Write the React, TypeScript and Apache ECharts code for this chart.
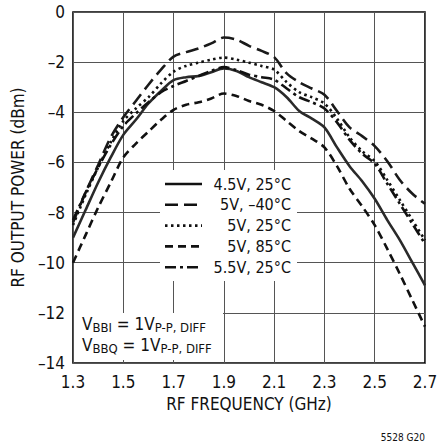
import React, { useEffect, useRef } from "react";
import * as echarts from "echarts";

const freq = [1.3, 1.35, 1.4, 1.45, 1.5, 1.55, 1.6, 1.65, 1.7, 1.75, 1.8, 1.85, 1.9, 1.95, 2.0, 2.05, 2.1, 2.15, 2.2, 2.25, 2.3, 2.35, 2.4, 2.45, 2.5, 2.55, 2.6, 2.65, 2.7];

const v45_25 = [-9.0, -7.9, -6.8, -5.8, -4.9, -4.3, -3.65, -3.15, -2.72, -2.6, -2.55, -2.4, -2.25, -2.35, -2.6, -2.8, -3.0, -3.4, -3.95, -4.25, -4.6, -5.4, -6.15, -6.75, -7.45, -8.3, -9.1, -10.0, -10.9];
const v5_m40 = [-8.4, -7.2, -6.1, -5.0, -4.2, -3.55, -2.9, -2.3, -1.78, -1.6, -1.45, -1.25, -1.02, -1.1, -1.35, -1.55, -1.8, -2.45, -2.8, -3.05, -3.3, -3.95, -4.6, -4.95, -5.35, -5.95, -6.7, -7.25, -7.65];
const v5_25 = [-8.5, -7.3, -6.2, -5.2, -4.35, -3.85, -3.4, -2.85, -2.38, -2.15, -2.02, -1.9, -1.82, -1.9, -2.02, -2.15, -2.3, -2.8, -3.2, -3.4, -3.65, -4.25, -5.0, -5.55, -5.95, -6.7, -7.5, -8.3, -9.1];
const v5_85 = [-10.0, -8.9, -7.8, -6.8, -5.8, -5.25, -4.77, -4.3, -3.9, -3.7, -3.6, -3.45, -3.25, -3.35, -3.55, -3.7, -3.95, -4.35, -4.75, -5.05, -5.4, -6.15, -7.05, -7.75, -8.5, -9.45, -10.45, -11.5, -12.55];
const v55_25 = [-8.3, -7.2, -6.2, -5.3, -4.55, -4.05, -3.6, -3.2, -2.95, -2.75, -2.55, -2.35, -2.2, -2.32, -2.5, -2.6, -2.7, -3.05, -3.4, -3.6, -3.85, -4.4, -5.1, -5.65, -6.05, -6.85, -7.65, -8.45, -9.25];

const seriesNames = ["4.5V, 25°C", "5V, –40°C", "5V, 25°C", "5V, 85°C", "5.5V, 25°C"];
const seriesValues = [v45_25, v5_m40, v5_25, v5_85, v55_25];
const annotLines = ["{v|V}{s|BBI}{v| = 1V}{s|P-P, DIFF}", "{v|V}{s|BBQ}{v| = 1V}{s|P-P, DIFF}"];
const xTitle = "RF FREQUENCY (GHz)";
const yTitle = "RF OUTPUT POWER (dBm)";
const figId = "5528 G20";

const FONT = "'Liberation Sans Narrow', 'DejaVu Sans Condensed', 'Liberation Sans', Arial, sans-serif";
const dashes: (number[] | "solid")[] = ["solid", [13, 6], [2.5, 3.5], [8, 5], [11, 4, 3, 4]];
const colors = ["#2a2a2a", "#1a1a1a", "#111", "#111", "#111"];

export default function App() {
  const ref = useRef<HTMLDivElement>(null);
  useEffect(() => {
    document.body.style.margin = "0";
    const chart = echarts.init(ref.current!, null, { renderer: "svg" });
    const gl = { left: 73, right: 22, top: 12, bottom: 82 };
    const series = seriesNames.map((name, i) => ({
      name,
      type: "line",
      data: freq.map((f, j) => [f, seriesValues[i][j]]),
      showSymbol: false,
      symbol: "none",
      smooth: 0.3,
      lineStyle: { color: colors[i], width: 2.6, type: dashes[i] },
      z: 3,
    }));
    const legendEls: any[] = [
      { type: "rect", shape: { x: 160, y: 170, width: 137, height: 111 }, style: { fill: "#fff" }, z: 10 },
    ];
    seriesNames.forEach((n, i) => {
      const y = 184 + i * 20.8;
      legendEls.push({
        type: "line",
        shape: { x1: 165, y1: y, x2: 202, y2: y },
        style: { stroke: "#111", lineWidth: 2.6, lineDash: dashes[i] === "solid" ? null : dashes[i] },
        z: 11,
      });
      legendEls.push({
        type: "text",
        x: 291,
        y: y,
        style: { text: n, fill: "#111", font: `16px ${FONT}`, align: "right", verticalAlign: "middle" },
        z: 11,
      });
    });
    const rich = {
      v: { fontSize: 17, fontFamily: FONT, lineHeight: 17, verticalAlign: "top", fill: "#111" },
      s: { fontSize: 13, fontFamily: FONT, lineHeight: 13, padding: [6, 0, 0, 0], verticalAlign: "top", fill: "#111" },
    };
    const annotEls = annotLines.map((t, i) => ({
      type: "text",
      x: 82,
      y: 315 + i * 21,
      z: 11,
      style: { text: t, fill: "#111", rich },
    }));
    chart.setOption({
      animation: false,
      backgroundColor: "#fff",
      grid: { ...gl, show: true, borderColor: "#000", borderWidth: 1.6, backgroundColor: "transparent" },
      xAxis: {
        type: "value",
        min: 1.3,
        max: 2.7,
        interval: 0.2,
        name: xTitle,
        nameLocation: "middle",
        nameGap: 32,
        nameTextStyle: { fontSize: 17, fontFamily: FONT, color: "#111" },
        axisLine: { show: false },
        axisTick: { show: false },
        axisLabel: { fontSize: 17, fontFamily: FONT, color: "#111", margin: 10, formatter: (v: number) => v.toFixed(1) },
        splitLine: { show: true, lineStyle: { color: "#555", width: 1 } },
      },
      yAxis: {
        type: "value",
        min: -14,
        max: 0,
        interval: 2,
        name: yTitle,
        nameLocation: "middle",
        nameGap: 42,
        nameTextStyle: { fontSize: 17, fontFamily: FONT, color: "#111" },
        axisLine: { show: false },
        axisTick: { show: false },
        axisLabel: { fontSize: 17, fontFamily: FONT, color: "#111", margin: 8, formatter: (v: number) => (v < 0 ? "–" + Math.abs(v) : String(v)) },
        splitLine: { show: true, lineStyle: { color: "#555", width: 1 } },
      },
      series,
      graphic: [
        ...legendEls,
        { type: "rect", shape: { x: 74, y: 313, width: 149, height: 47 }, style: { fill: "#fff" }, z: 10 },
        ...annotEls,
        { type: "text", x: 425, y: 437, style: { text: figId, fill: "#111", font: `10px ${FONT}`, align: "right", verticalAlign: "middle" }, z: 11 },
      ],
    });
    return () => chart.dispose();
  }, []);
  return <div ref={ref} style={{ position: "fixed", left: 0, top: 0, width: 447, height: 445 }} />;
}
